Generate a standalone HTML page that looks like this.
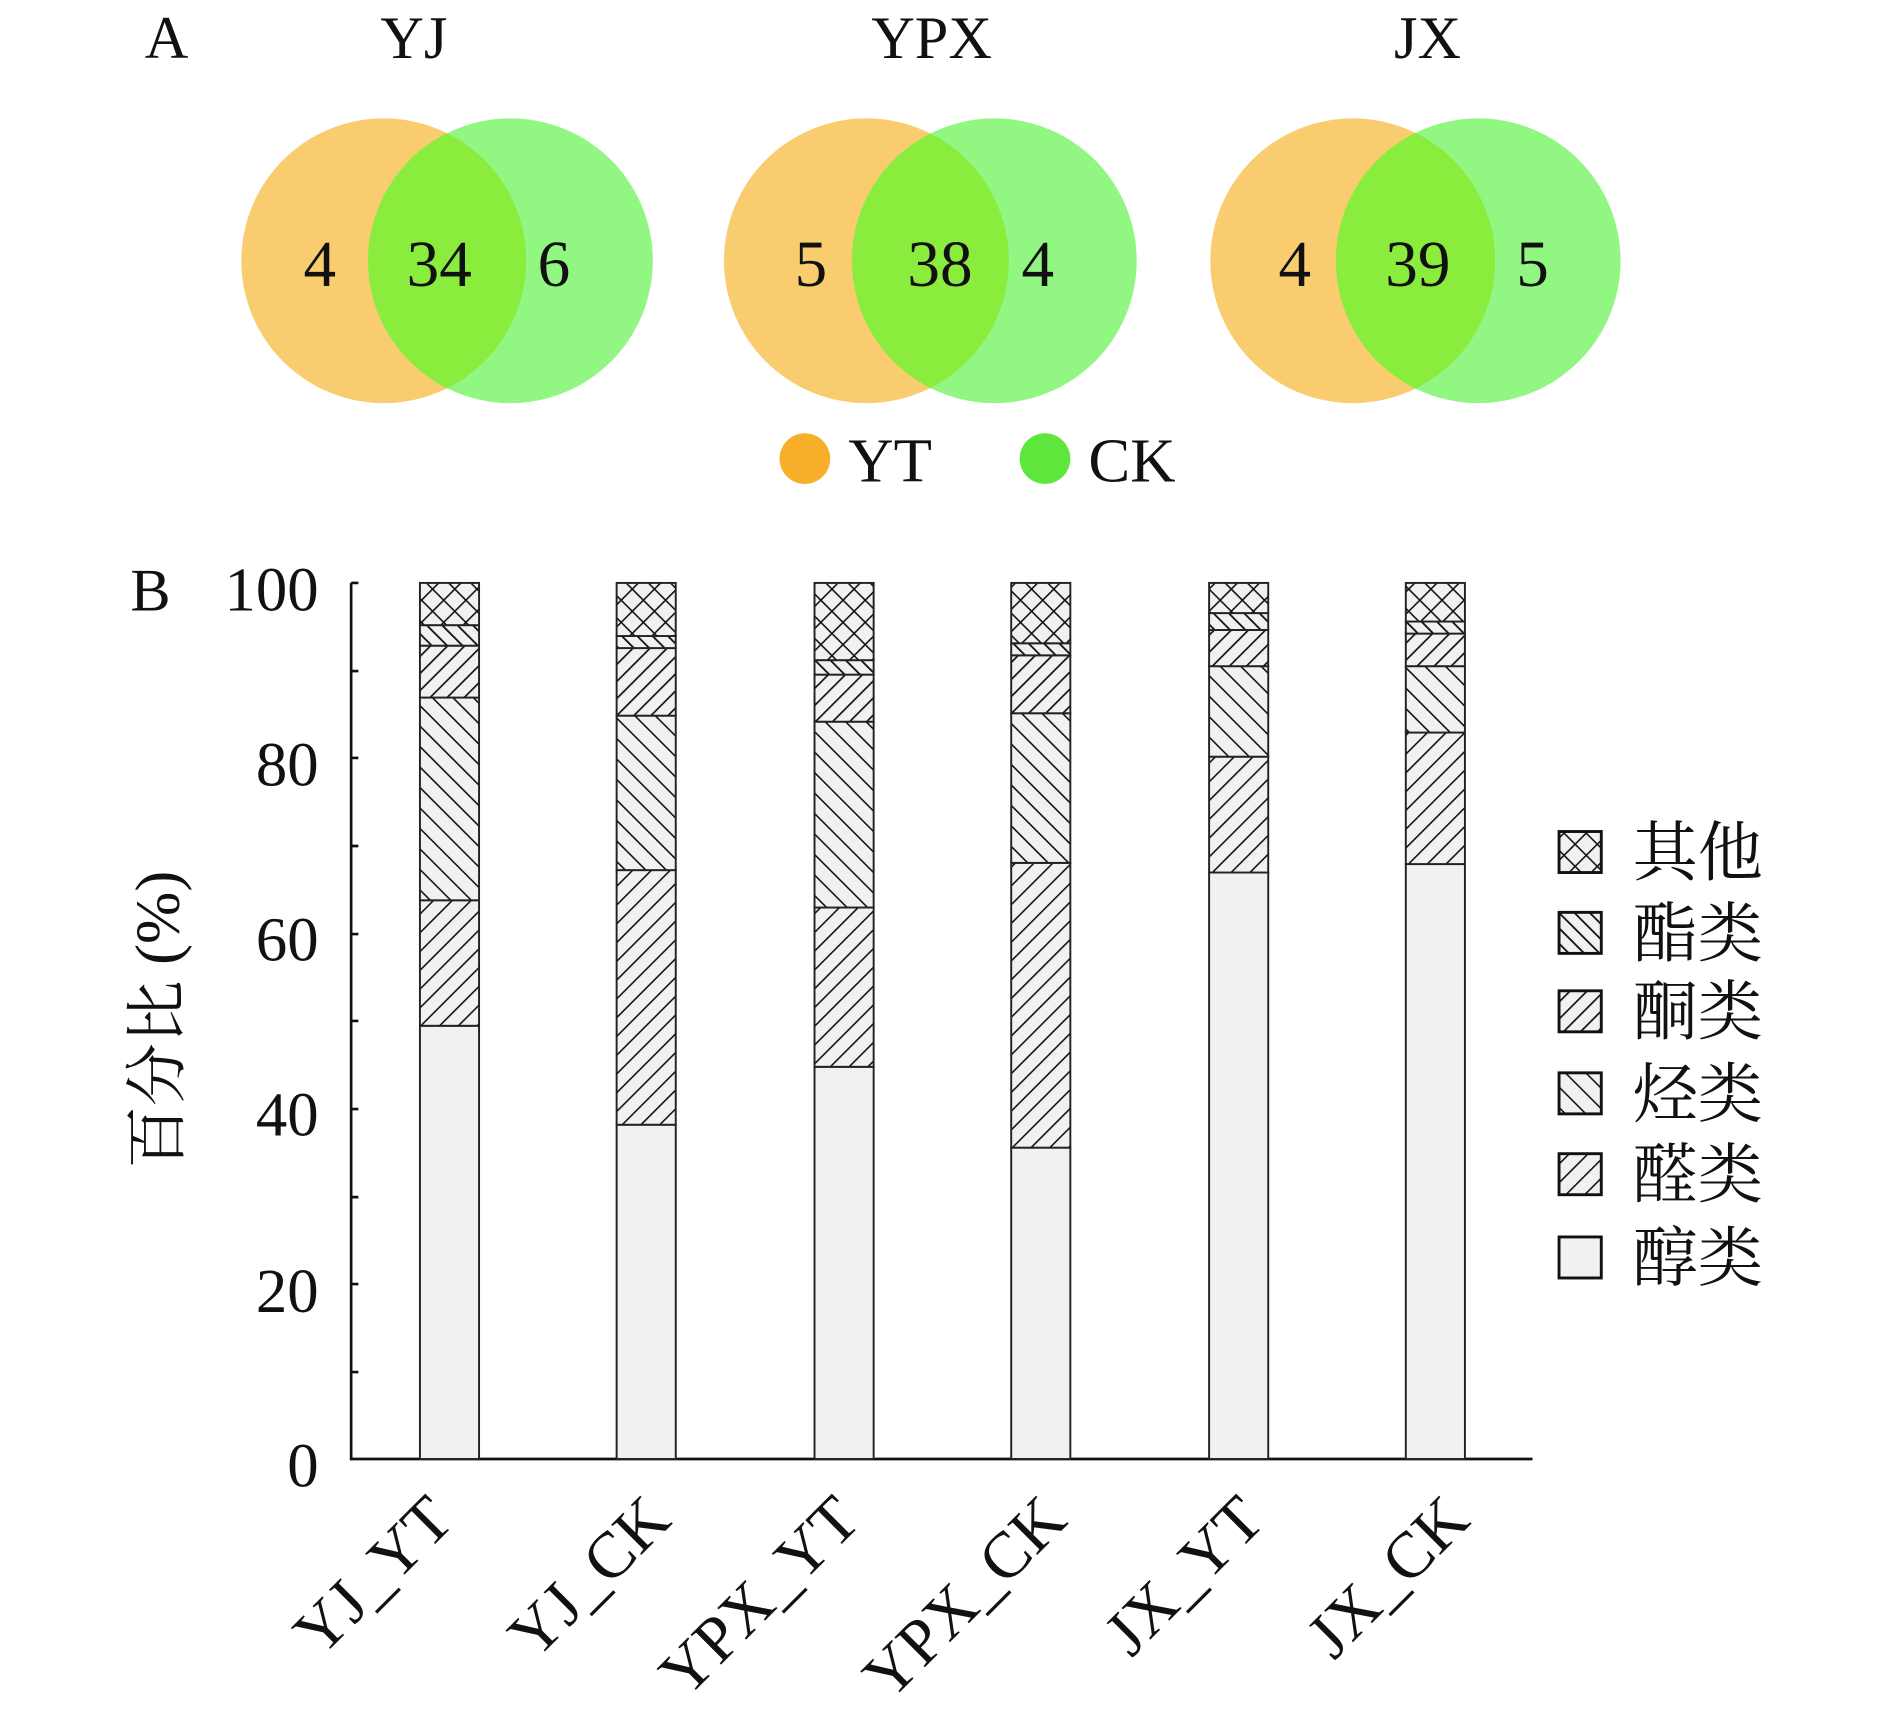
<!DOCTYPE html>
<html><head><meta charset="utf-8"><style>
html,body{margin:0;padding:0;background:#fff;}
svg{display:block;}
text{font-family:"Liberation Serif","Noto Serif CJK SC",serif;fill:#111;}
</style></head><body>
<svg width="1890" height="1723" viewBox="0 0 1560 1422" xmlns="http://www.w3.org/2000/svg">
<defs>
<pattern id="ald" patternUnits="userSpaceOnUse" width="11" height="11" patternTransform="rotate(45)">
<rect width="11" height="11" fill="#f2f1ef"/><line x1="0" y1="0" x2="0" y2="11" stroke="#111" stroke-width="2.6"/></pattern>
<pattern id="ket" patternUnits="userSpaceOnUse" width="10" height="10" patternTransform="rotate(45)">
<rect width="10" height="10" fill="#f2f1ef"/><line x1="0" y1="0" x2="0" y2="10" stroke="#111" stroke-width="2.8"/></pattern>
<pattern id="hyd" patternUnits="userSpaceOnUse" width="12" height="12" patternTransform="rotate(-45)">
<rect width="12" height="12" fill="#f2f1ef"/><line x1="0" y1="0" x2="0" y2="12" stroke="#111" stroke-width="2.6"/></pattern>
<pattern id="est" patternUnits="userSpaceOnUse" width="9" height="9" patternTransform="rotate(-45)">
<rect width="9" height="9" fill="#f2f1ef"/><line x1="0" y1="0" x2="0" y2="9" stroke="#111" stroke-width="3"/></pattern>
<pattern id="oth" patternUnits="userSpaceOnUse" width="13" height="13" patternTransform="rotate(45)">
<rect width="13" height="13" fill="#f2f1ef"/><line x1="0" y1="0" x2="0" y2="13" stroke="#111" stroke-width="2.6"/><line x1="0" y1="0" x2="13" y2="0" stroke="#111" stroke-width="2.6"/></pattern>
<clipPath id="c1"><circle cx="318" cy="216" r="118"/></clipPath>
<clipPath id="c2"><circle cx="718" cy="216" r="118"/></clipPath>
<clipPath id="c3"><circle cx="1121" cy="216" r="118"/></clipPath>
</defs>
<g transform="scale(0.996)">
<text x="120" y="48" font-size="50">A</text>
<text x="343" y="48" font-size="50" text-anchor="middle">YJ</text>
<text x="772" y="48" font-size="50" text-anchor="middle">YPX</text>
<text x="1183" y="48" font-size="50" text-anchor="middle">JX</text>

<g>
<circle cx="318" cy="216" r="118" fill="#f9cd6f"/><circle cx="423" cy="216" r="118" fill="#92f782"/>
<circle cx="423" cy="216" r="118" fill="#8aec3c" clip-path="url(#c1)"/>
<circle cx="718" cy="216" r="118" fill="#f9cd6f"/><circle cx="824" cy="216" r="118" fill="#92f782"/>
<circle cx="824" cy="216" r="118" fill="#8aec3c" clip-path="url(#c2)"/>
<circle cx="1121" cy="216" r="118" fill="#f9cd6f"/><circle cx="1225" cy="216" r="118" fill="#92f782"/>
<circle cx="1225" cy="216" r="118" fill="#8aec3c" clip-path="url(#c3)"/>
</g>
<g font-size="54" text-anchor="middle">
<text x="265" y="237">4</text><text x="364" y="237">34</text><text x="459" y="237">6</text>
<text x="672" y="237">5</text><text x="779" y="237">38</text><text x="860" y="237">4</text>
<text x="1073" y="237">4</text><text x="1175" y="237">39</text><text x="1270" y="237">5</text>
</g>
<circle cx="667" cy="380" r="21" fill="#f7ae2a"/>
<text x="703" y="399" font-size="52">YT</text>
<circle cx="866" cy="380" r="21" fill="#5ee63c"/>
<text x="902" y="399" font-size="52">CK</text>

<text x="108" y="506" font-size="50">B</text>
<g font-size="52" text-anchor="end">
<text x="264" y="506">100</text><text x="264" y="651">80</text><text x="264" y="796">60</text>
<text x="264" y="941">40</text><text x="264" y="1087">20</text><text x="264" y="1232">0</text>
</g>
<text transform="translate(148,845) rotate(-90)" font-size="52" text-anchor="middle">百分比 (%)</text>

<g stroke="#111" stroke-width="2.2">
<line x1="291" y1="483" x2="291" y2="1210"/>
<line x1="290" y1="1209" x2="1270" y2="1209"/>
<path d="M291 483h6M291 556h6M291 628h6M291 701h6M291 774h6M291 846h6M291 919h6M291 992h6M291 1064h6M291 1137h6"/>
</g>

<g stroke="#222" stroke-width="1.6">
<rect x="348" y="850" width="49" height="359" fill="#f2f1ef"/>
<rect x="348" y="746" width="49" height="104" fill="url(#ald)"/>
<rect x="348" y="578" width="49" height="168" fill="url(#hyd)"/>
<rect x="348" y="535" width="49" height="43" fill="url(#ket)"/>
<rect x="348" y="518" width="49" height="17" fill="url(#est)"/>
<rect x="348" y="483" width="49" height="35" fill="url(#oth)"/>
<rect x="511" y="932" width="49" height="277" fill="#f2f1ef"/>
<rect x="511" y="721" width="49" height="211" fill="url(#ald)"/>
<rect x="511" y="593" width="49" height="128" fill="url(#hyd)"/>
<rect x="511" y="537" width="49" height="56" fill="url(#ket)"/>
<rect x="511" y="527" width="49" height="10" fill="url(#est)"/>
<rect x="511" y="483" width="49" height="44" fill="url(#oth)"/>
<rect x="675" y="884" width="49" height="325" fill="#f2f1ef"/>
<rect x="675" y="752" width="49" height="132" fill="url(#ald)"/>
<rect x="675" y="598" width="49" height="154" fill="url(#hyd)"/>
<rect x="675" y="559" width="49" height="39" fill="url(#ket)"/>
<rect x="675" y="547" width="49" height="12" fill="url(#est)"/>
<rect x="675" y="483" width="49" height="64" fill="url(#oth)"/>
<rect x="838" y="951" width="49" height="258" fill="#f2f1ef"/>
<rect x="838" y="715" width="49" height="236" fill="url(#ald)"/>
<rect x="838" y="591" width="49" height="124" fill="url(#hyd)"/>
<rect x="838" y="543" width="49" height="48" fill="url(#ket)"/>
<rect x="838" y="533" width="49" height="10" fill="url(#est)"/>
<rect x="838" y="483" width="49" height="50" fill="url(#oth)"/>
<rect x="1002" y="723" width="49" height="486" fill="#f2f1ef"/>
<rect x="1002" y="627" width="49" height="96" fill="url(#ald)"/>
<rect x="1002" y="552" width="49" height="75" fill="url(#hyd)"/>
<rect x="1002" y="522" width="49" height="30" fill="url(#ket)"/>
<rect x="1002" y="508" width="49" height="14" fill="url(#est)"/>
<rect x="1002" y="483" width="49" height="25" fill="url(#oth)"/>
<rect x="1165" y="716" width="49" height="493" fill="#f2f1ef"/>
<rect x="1165" y="607" width="49" height="109" fill="url(#ald)"/>
<rect x="1165" y="552" width="49" height="55" fill="url(#hyd)"/>
<rect x="1165" y="525" width="49" height="27" fill="url(#ket)"/>
<rect x="1165" y="515" width="49" height="10" fill="url(#est)"/>
<rect x="1165" y="483" width="49" height="32" fill="url(#oth)"/>
</g>

<g font-size="54" text-anchor="end">
<text transform="translate(378,1262) rotate(-45)">YJ_YT</text>
<text transform="translate(558,1262) rotate(-45)">YJ_CK</text>
<text transform="translate(715,1262) rotate(-45)">YPX_YT</text>
<text transform="translate(886,1262) rotate(-45)">YPX_CK</text>
<text transform="translate(1050,1262) rotate(-45)">JX_YT</text>
<text transform="translate(1220,1262) rotate(-45)">JX_CK</text>
</g>

<g stroke="#111" stroke-width="2.4">
<rect x="1292" y="689" width="35" height="34" fill="url(#oth)"/>
<rect x="1292" y="756" width="35" height="34" fill="url(#est)"/>
<rect x="1292" y="821" width="35" height="34" fill="url(#ket)"/>
<rect x="1292" y="889" width="35" height="34" fill="url(#hyd)"/>
<rect x="1292" y="956" width="35" height="34" fill="url(#ald)"/>
<rect x="1292" y="1025" width="35" height="34" fill="#f2f1ef"/>
</g>
<g font-size="54">
<text x="1353" y="725">其他</text>
<text x="1353" y="792">酯类</text>
<text x="1353" y="857">酮类</text>
<text x="1353" y="925">烃类</text>
<text x="1353" y="992">醛类</text>
<text x="1353" y="1061">醇类</text>
</g>
</g>
</svg>
</body></html>
